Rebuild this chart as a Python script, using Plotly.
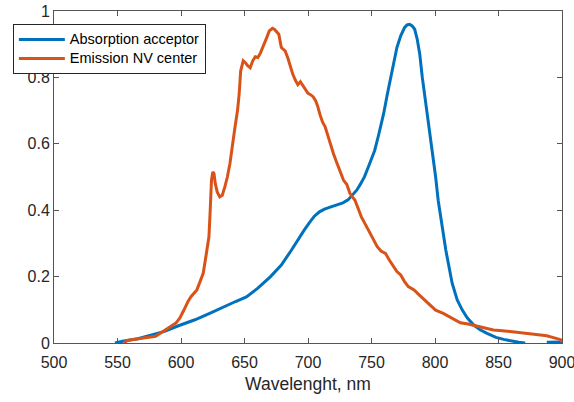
import plotly.graph_objects as go

wl_abs = [548, 555, 566, 575, 587, 598, 611, 623, 634, 643, 651.5, 660.5, 670.5, 679, 687, 693, 697,
          701, 705, 709, 713, 718, 723.5, 727.5, 731.5, 735.5, 738.5, 741.5, 744.5, 747.5, 752.5,
          755.5, 759.5, 762.5, 766, 770, 773, 776, 778, 780, 782, 784, 786, 788, 790, 792, 794,
          797.5, 800.5, 802.5, 804.5, 808.5, 813.5, 817.5, 821.5, 825.5, 830.5, 835.5, 841, 848,
          854, 861, 866, 871, 879, 888, 894, 900]
absorption = [0, 0.006, 0.013, 0.022, 0.035, 0.052, 0.07, 0.09, 0.11, 0.125, 0.139, 0.165, 0.20,
              0.235, 0.28, 0.318, 0.34, 0.362, 0.382, 0.395, 0.403, 0.41, 0.416, 0.422, 0.431,
              0.447, 0.461, 0.48, 0.501, 0.53, 0.58, 0.625, 0.69, 0.75, 0.82, 0.89, 0.925, 0.95,
              0.958, 0.96, 0.955, 0.945, 0.915, 0.87, 0.80, 0.745, 0.685, 0.58, 0.50, 0.43, 0.38,
              0.28, 0.18, 0.13, 0.099, 0.075, 0.054, 0.04, 0.029, 0.017, 0.011, 0.005, 0.002, 0,
              None, 0.002, 0.002, 0.003]

wl_em = [555, 558, 561, 565, 570, 575, 580, 584, 588, 592, 596, 599, 601, 602, 605.5, 608, 612.5,
         615.5, 617.5, 620, 622, 623, 624, 625, 626, 627, 628.5, 630.5, 632.5, 634.5, 636.5, 638.5,
         640.5, 642.5, 644.5, 645.8, 647, 649, 650.5, 652.5, 654.5, 656.5, 658.5, 660.5, 662.5,
         664.5, 666, 667.5, 669.5, 672, 673.5, 675.5, 677, 679, 680.5, 682, 684, 686, 688, 690,
         692, 694, 696, 698, 700, 702, 704, 706, 707.5, 709.5, 711.5, 713.5, 715.5, 717.5, 720,
         722, 724, 726, 728, 730.5, 733, 735, 737, 739.5, 742, 745.5, 749, 752, 754.5, 757.5, 761,
         764, 767.5, 770, 773, 776, 779, 783.5, 787.5, 791.5, 795.5, 800.5, 806.5, 810.5, 815.5,
         820, 826, 833, 839, 846, 853, 859, 866, 872, 877, 883, 888, 893, 896, 899, 900]
emission = [0, 0.008, 0.01, 0.012, 0.015, 0.017, 0.02, 0.03, 0.04, 0.048, 0.06, 0.075, 0.087,
            0.097, 0.125, 0.14, 0.16, 0.19, 0.21, 0.27, 0.32, 0.40, 0.49, 0.515, 0.51, 0.48, 0.455,
            0.44, 0.445, 0.47, 0.50, 0.54, 0.60, 0.65, 0.70, 0.75, 0.82, 0.85, 0.845, 0.835, 0.829,
            0.85, 0.862, 0.86, 0.873, 0.89, 0.903, 0.92, 0.94, 0.948, 0.945, 0.935, 0.93, 0.89,
            0.885, 0.88, 0.86, 0.832, 0.81, 0.792, 0.778, 0.787, 0.775, 0.765, 0.752, 0.748, 0.742,
            0.73, 0.715, 0.687, 0.665, 0.651, 0.625, 0.60, 0.571, 0.55, 0.531, 0.51, 0.49, 0.478,
            0.451, 0.44, 0.43, 0.405, 0.38, 0.355, 0.33, 0.31, 0.29, 0.277, 0.27, 0.25, 0.23, 0.215,
            0.205, 0.185, 0.17, 0.16, 0.145, 0.13, 0.115, 0.099, 0.089, 0.08, 0.07, 0.061, 0.057,
            0.051, 0.045, 0.039, 0.037, 0.034, 0.031, 0.029, 0.027, 0.024, 0.022, 0.017, 0.014,
            0.01, 0.004]

x_ticks = [500, 550, 600, 650, 700, 750, 800, 850, 900]
y_ticks = [0, 0.2, 0.4, 0.6, 0.8, 1]
y_tick_labels = ["0", "0.2", "0.4", "0.6", "0.8", "1"]

FONT = "Liberation Sans, Arial, sans-serif"
AX = "#262626"
LEG = '<span style="font-size:14.5px">{}</span>'

fig = go.Figure()
fig.add_trace(go.Scatter(x=wl_abs, y=absorption, mode="lines",
                         name=LEG.format("Absorption acceptor"),
                         line=dict(color="#0072BD", width=3), connectgaps=False))
fig.add_trace(go.Scatter(x=wl_em, y=emission, mode="lines",
                         name=LEG.format("Emission NV center"),
                         line=dict(color="#D95319", width=3)))

axis_common = dict(showgrid=False, zeroline=False, showline=True, linecolor="#555555",
                   linewidth=1, mirror="ticks", ticks="inside", ticklen=5,
                   tickcolor="#555555", automargin=False, ticklabeloverflow="allow",
                   tickfont=dict(family=FONT, size=16, color=AX))
fig.update_xaxes(range=[500, 900], tickvals=x_ticks, ticktext=[str(v) for v in x_ticks],
                 ticklabelstandoff=5,
                 title=dict(text="Wavelenght, nm", font=dict(family=FONT, size=17.5, color=AX),
                            standoff=7),
                 **axis_common)
fig.update_yaxes(range=[0, 1], tickvals=y_ticks, ticktext=y_tick_labels, **axis_common)

fig.update_layout(
    width=574, height=402,
    margin=dict(l=54, r=12, t=11, b=59, autoexpand=False),
    paper_bgcolor="white", plot_bgcolor="white",
    showlegend=True,
    legend=dict(x=-0.081, y=0.961, xanchor="left", yanchor="top",
                bgcolor="white", bordercolor="#262626", borderwidth=1,
                font=dict(family=FONT, size=12, color="#000000"),
                tracegroupgap=0, itemwidth=46),
)

fig.write_html("out.html", config={"displayModeBar": False},
               post_script="document.body.style.margin='0';document.body.style.padding='0';")
